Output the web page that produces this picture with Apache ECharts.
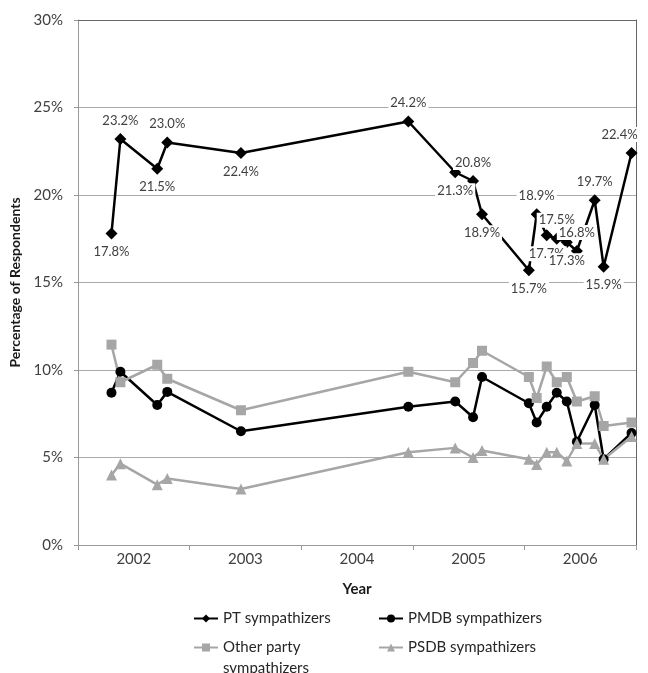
<!DOCTYPE html>
<html>
<head>
<meta charset="utf-8">
<script src="https://cdn.jsdelivr.net/npm/echarts@6/dist/echarts.min.js"></script>
<style>
html,body{margin:0;padding:0;background:#fff;}
#chart{width:648px;height:673px;}
</style>
</head>
<body>
<div id="chart"></div>
<script>
// ---- data ----
var yearLabels = ['2002', '2003', '2004', '2005', '2006'];
var surveyDates = [2002.30, 2002.38, 2002.71, 2002.80, 2003.46, 2004.96, 2005.38, 2005.54, 2005.62,
                   2006.04, 2006.11, 2006.20, 2006.29, 2006.38, 2006.47, 2006.63, 2006.71, 2006.96];
var ptValues    = [17.8, 23.2, 21.5, 23.0, 22.4, 24.2, 21.3, 20.8, 18.9, 15.7, 18.9, 17.7, 17.5, 17.3, 16.8, 19.7, 15.9, 22.4];
var pmdbValues  = [8.7, 9.9, 8.0, 8.75, 6.5, 7.9, 8.2, 7.3, 9.6, 8.1, 7.0, 7.9, 8.7, 8.2, 5.9, 8.0, 4.9, 6.4];
var otherValues = [11.45, 9.3, 10.3, 9.5, 7.7, 9.9, 9.3, 10.4, 11.1, 9.6, 8.4, 10.2, 9.3, 9.6, 8.2, 8.5, 6.8, 7.0];
var psdbValues  = [4.0, 4.65, 3.45, 3.8, 3.2, 5.3, 5.55, 5.0, 5.4, 4.9, 4.6, 5.3, 5.3, 4.8, 5.8, 5.8, 4.9, 6.2];
var seriesNames = ['PT sympathizers', 'PMDB sympathizers', 'Other party sympathizers', 'PSDB sympathizers'];

// ---- styling helpers (not data) ----
var ptLabelSide = ['bottom','top','bottom','top','bottom','top','bottom','top','bottom',
                   'bottom','top','bottom','top','bottom','top','top','bottom','top'];
var FONT = 'Lato';
var BLACK = '#000000';
var GRAY = '#a6a6a6';

function pairs(vals) {
  return vals.map(function (v, i) { return [surveyDates[i], v]; });
}

var ptData = pairs(ptValues).map(function (p, i) {
  var lab = { position: ptLabelSide[i] };
  if (i === ptValues.length - 1) { lab.offset = [-12, 0]; }
  return { value: p, label: lab };
});

function lineSeries(name, data, color, symbol, size, extra) {
  var s = {
    name: name, type: 'line', xAxisIndex: 1, yAxisIndex: 0,
    data: data, symbol: symbol, symbolSize: size,
    lineStyle: { color: color, width: 2.5 },
    itemStyle: { color: color },
    animation: false
  };
  for (var k in extra) { s[k] = extra[k]; }
  return s;
}

var chart = echarts.init(document.getElementById('chart'));
var legendText = { fontFamily: FONT, fontSize: 15, color: '#262626', lineHeight: 21 };

var option = {
  backgroundColor: '#ffffff',
  textStyle: { fontFamily: FONT },
  grid: { left: 78, right: 12, top: 20, bottom: 128 },
  xAxis: [
    {
      type: 'category', data: yearLabels, position: 'bottom', boundaryGap: true,
      axisLine: { lineStyle: { color: '#999999', width: 1 } },
      axisTick: { show: true, length: 5, lineStyle: { color: '#999999' } },
      axisLabel: { fontFamily: FONT, fontSize: 15, color: '#404040', margin: 7 },
      splitLine: { show: false },
      name: 'Year', nameLocation: 'middle', nameGap: 37,
      nameTextStyle: { fontFamily: FONT, fontSize: 15, fontWeight: 'bold', color: '#1a1a1a' }
    },
    {
      type: 'value', min: 2002, max: 2007, position: 'top',
      axisLine: { show: true, onZero: false, lineStyle: { color: '#666666', width: 1 } },
      axisTick: { show: false }, axisLabel: { show: false }, splitLine: { show: false }
    }
  ],
  yAxis: [
    {
      type: 'value', min: 0, max: 30, interval: 5, position: 'left',
      axisLine: { show: true, lineStyle: { color: '#999999', width: 1 } },
      axisTick: { show: true, length: 4, lineStyle: { color: '#999999' } },
      axisLabel: { fontFamily: FONT, fontSize: 15, color: '#404040', margin: 15, formatter: '{value}%' },
      splitLine: { show: true, lineStyle: { color: '#aaaaaa', width: 1 } },
      name: 'Percentage of Respondents', nameLocation: 'middle', nameRotate: 90, nameGap: 40,
      nameTextStyle: { fontFamily: FONT, fontSize: 14, fontWeight: 'bold', color: '#1a1a1a' }
    },
    {
      type: 'value', min: 0, max: 30, interval: 5, position: 'right',
      axisLine: { show: true, onZero: false, lineStyle: { color: '#666666', width: 1 } },
      axisTick: { show: false }, axisLabel: { show: false }, splitLine: { show: false }
    }
  ],
  legend: [
    { data: [seriesNames[0]], left: 193, top: 608, padding: 0, itemWidth: 24, itemHeight: 10, itemGap: 0, textStyle: legendText },
    { data: [seriesNames[1]], left: 378, top: 608, padding: 0, itemWidth: 24, itemHeight: 10, itemGap: 0, textStyle: legendText },
    { data: [seriesNames[2]], left: 193, top: 616, padding: 0, itemWidth: 24, itemHeight: 10, itemGap: 0,
      formatter: function () { return ' \nOther party\nsympathizers'; },
      textStyle: legendText },
    { data: [seriesNames[3]], left: 378, top: 637, padding: 0, itemWidth: 24, itemHeight: 10, itemGap: 0, textStyle: legendText }
  ],
  series: [
    lineSeries(seriesNames[0], ptData, BLACK, 'diamond', 12, {
      label: {
        show: true, fontFamily: FONT, fontSize: 13, color: '#404040',
        backgroundColor: '#ffffff', padding: [1, 2], distance: 5,
        formatter: function (p) { return p.value[1].toFixed(1) + '%'; }
      }
    }),
    lineSeries(seriesNames[1], pairs(pmdbValues), BLACK, 'circle', 10, {}),
    lineSeries(seriesNames[2], pairs(otherValues), GRAY, 'rect', 10, {}),
    lineSeries(seriesNames[3], pairs(psdbValues), GRAY, 'triangle', 11, {})
  ]
};
chart.setOption(option);
</script>
</body>
</html>
